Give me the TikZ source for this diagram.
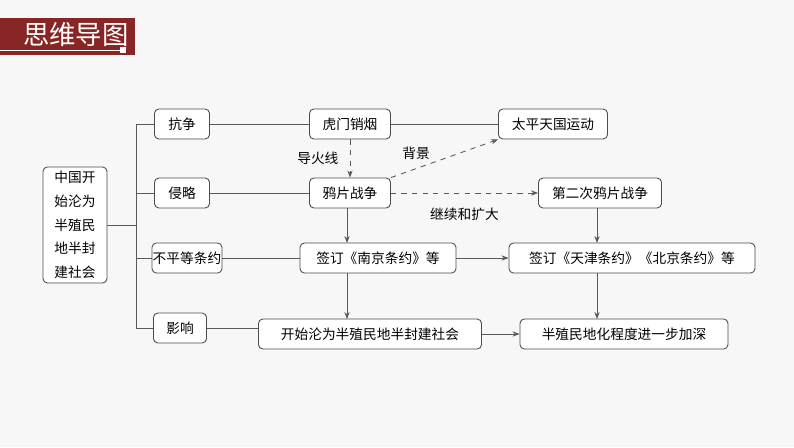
\documentclass[tikz,border=0pt]{standalone}
\usepackage{fontspec}
\setmainfont{Noto Sans CJK SC}
\usetikzlibrary{arrows.meta}
\begin{document}
\begin{tikzpicture}[x=0.02cm,y=-0.02cm,
  box/.style={draw=black!70,rounded corners=2.5pt,fill=white,font=\fontsize{7.8}{10}\selectfont,inner sep=0pt,line width=0.5pt},
  ln/.style={draw=black!65,line width=0.5pt},
  arr/.style={ln,-{Stealth[length=4pt,width=3pt]}},
  darr/.style={arr,dashed},
  lab/.style={font=\fontsize{7.8}{10}\selectfont}]
\useasboundingbox (0,0) rectangle (794,447);
\fill[white!97!black] (0,0) rectangle (794,447);
% header
\fill[red!45!black!85] (0,18) rectangle (135,55);
\node[text=white,font=\fontsize{15}{16}\selectfont,anchor=west] (hdr) at (17,35) {思维导图};
\draw[white,line width=0.4pt] (0,50) -- (120,50);
\fill[white] (120,47) rectangle (126,53);
% nodes
\node[box,minimum width=64*0.02cm,minimum height=116*0.02cm,align=center,font=\fontsize{7.8}{13.5}\selectfont] (root) at (75,225) {中国开\\始沦为\\半殖民\\地半封\\建社会};
\node[box,minimum width=55*0.02cm,minimum height=30*0.02cm] (kz) at (182,124) {抗争};
\node[box,minimum width=55*0.02cm,minimum height=30*0.02cm] (ql) at (182,193) {侵略};
\node[box,minimum width=70*0.02cm,minimum height=30*0.02cm] (bp) at (187,258) {不平等条约};
\node[box,minimum width=53*0.02cm,minimum height=30*0.02cm] (yx) at (180,328) {影响};
\node[box,minimum width=81*0.02cm,minimum height=30*0.02cm] (hm) at (350,124) {虎门销烟};
\node[box,minimum width=81*0.02cm,minimum height=30*0.02cm] (yp) at (350,193) {鸦片战争};
\node[box,minimum width=156*0.02cm,minimum height=30*0.02cm] (nj) at (378,258) {签订《南京条约》等};
\node[box,minimum width=223*0.02cm,minimum height=30*0.02cm] (ks) at (370,334) {开始沦为半殖民地半封建社会};
\node[box,minimum width=109*0.02cm,minimum height=30*0.02cm] (tp) at (553,124) {太平天国运动};
\node[box,minimum width=123*0.02cm,minimum height=30*0.02cm] (de) at (600,193) {第二次鸦片战争};
\node[box,minimum width=246*0.02cm,minimum height=30*0.02cm] (tj) at (632,258) {签订《天津条约》《北京条约》等};
\node[box,minimum width=208*0.02cm,minimum height=30*0.02cm] (bz) at (624,334) {半殖民地化程度进一步加深};
% trunk
\coordinate (t1) at (136,124); \coordinate (t4) at (136,328);
\draw[ln] (t1) -- (t4);
\draw[ln] (root.east) -- (root.east -| t1);
\draw[ln] (t1) -- (kz.west);
\draw[ln] (ql.west -| t1) -- (ql.west);
\draw[ln] (bp.west -| t1) -- (bp.west);
\draw[ln] (t4) -- (yx.west);
\draw[ln] (kz) -- (hm);
\draw[ln] (hm) -- (tp);
\draw[ln] (ql) -- (yp);
\draw[ln] (bp) -- (nj);
\draw[ln] (yx) -- (ks.west |- yx);
% arrows
\draw[darr] (hm.south) -- node[lab,left=3pt] {导火线} (yp.north);
\draw[darr] (yp.north east) -- (tp.south west);
\node[lab] (bj) at (416,153) {背景};
\draw[darr] (yp.east) -- node[lab,below=5pt] {继续和扩大} (de.west);
\draw[arr] (347,208) -- (347,243);
\draw[arr] (347,273) -- (347,319);
\draw[arr] (nj.east) -- (tj.west);
\draw[arr] (597,208) -- (597,243);
\draw[arr] (597,273) -- (597,319);
\draw[arr] (ks.east) -- (bz.west);
\end{tikzpicture}
\end{document}
